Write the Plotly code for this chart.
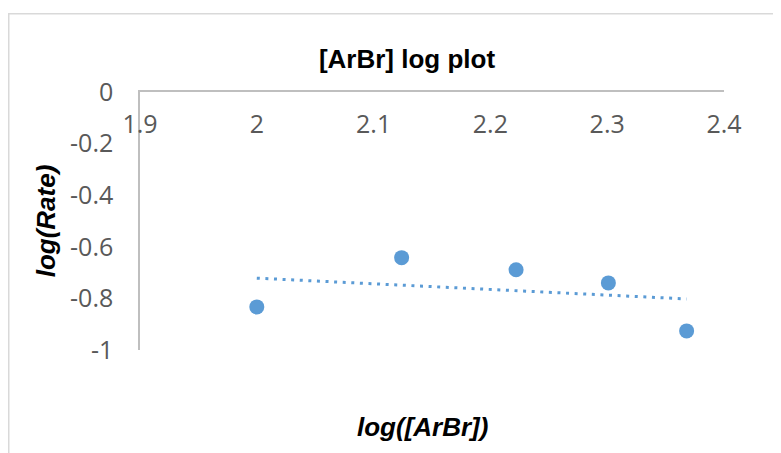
import numpy as np
import plotly.graph_objects as go

# Data
log_arbr = [2.0, 2.124, 2.222, 2.301, 2.368]
log_rate = [-0.833, -0.642, -0.689, -0.740, -0.926]

x_ticks = [1.9, 2.0, 2.1, 2.2, 2.3, 2.4]
x_tick_labels = ["1.9", "2", "2.1", "2.2", "2.3", "2.4"]
y_ticks = [0, -0.2, -0.4, -0.6, -0.8, -1.0]
y_tick_labels = ["0", "-0.2", "-0.4", "-0.6", "-0.8", "-1"]

# Linear trendline fitted from the data
slope, intercept = np.polyfit(log_arbr, log_rate, 1)
trend_x = [min(log_arbr), max(log_arbr)]
trend_y = [slope * v + intercept for v in trend_x]

blue = "#5b9bd5"
grey_text = "#595959"
axis_grey = "#bfbfbf"

W, H = 773, 445  # page has an 8px body margin

fig = go.Figure()
fig.add_trace(go.Scatter(
    x=trend_x, y=trend_y, mode="lines",
    line=dict(color=blue, width=3, dash="3px,5.6px"),
    hoverinfo="skip", showlegend=False,
))
fig.add_trace(go.Scatter(
    x=log_arbr, y=log_rate, mode="markers",
    marker=dict(color=blue, size=15),
    showlegend=False,
))

fig.update_layout(
    width=W, height=H,
    margin=dict(l=132, r=57, t=84, b=103),
    paper_bgcolor="white", plot_bgcolor="white",
    font=dict(family="Open Sans, sans-serif", color=grey_text),
    title=dict(
        text="<b>[ArBr] log plot</b>",
        font=dict(family="Liberation Sans, Arial, sans-serif", size=26, color="black"),
        x=399 / W, xanchor="center", xref="container",
        y=1 - 51 / H, yanchor="middle", yref="container",
    ),
    xaxis=dict(
        range=[1.9, 2.4], side="top", automargin=False,
        tickvals=x_ticks, ticktext=x_tick_labels,
        ticklabelposition="inside", ticklabelstandoff=26,
        ticklabeloverflow="allow",
        ticks="", showgrid=False, zeroline=False,
        showline=True, linecolor=axis_grey, linewidth=1.5,
        tickfont=dict(size=25, color=grey_text),
    ),
    yaxis=dict(
        range=[-1, 0], automargin=False,
        tickvals=y_ticks, ticktext=y_tick_labels,
        ticklabeloverflow="allow",
        ticks="", showgrid=False, zeroline=False,
        showline=True, linecolor=axis_grey, linewidth=1.5,
        ticklabelstandoff=20,
        tickfont=dict(size=25, color=grey_text),
        title=dict(
            text="<b><i>log(Rate)</i></b>",
            font=dict(family="Liberation Sans, Arial, sans-serif", size=26, color="black"),
            standoff=7,
        ),
    ),
    annotations=[dict(
        text="<b><i>log([ArBr])</i></b>",
        xref="paper", yref="paper",
        x=(422 - 140) / 584, y=(350 - 427) / 258,
        xanchor="center", yanchor="middle", showarrow=False,
        font=dict(family="Liberation Sans, Arial, sans-serif", size=26, color="black"),
    )],
    shapes=[dict(
        type="rect", xref="paper", yref="paper",
        x0=(0.75 - 132) / 584, x1=1.3,
        y0=-0.6, y1=(342 - 5.75) / 258,
        line=dict(color="#d9d9d9", width=1.5),
        fillcolor="rgba(0,0,0,0)", layer="below",
    )],
)

fig.write_html("out.html")
